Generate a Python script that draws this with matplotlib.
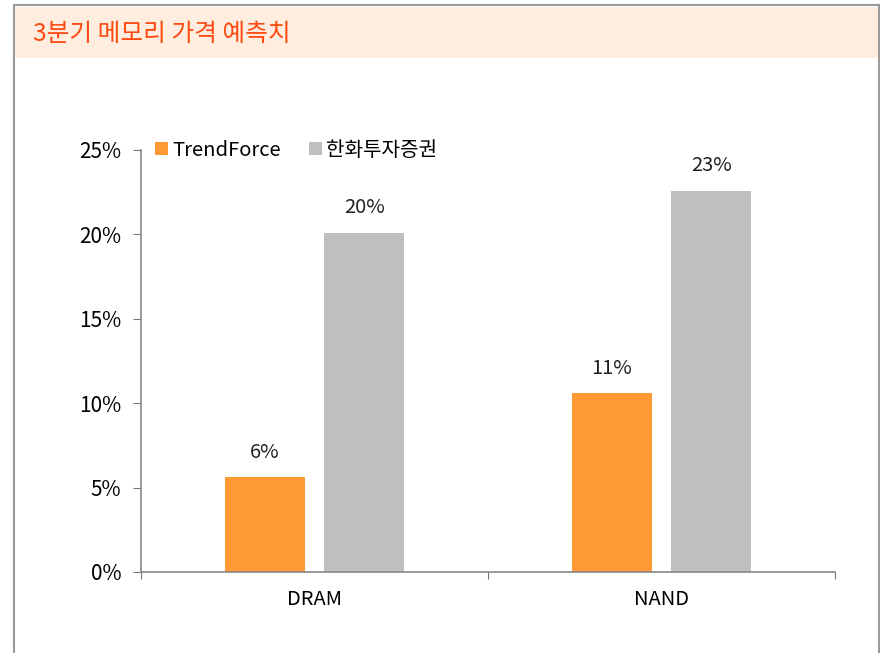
import matplotlib
matplotlib.use("Agg")
import matplotlib.pyplot as plt
from matplotlib.patches import Rectangle
import numpy as np

plt.rcParams['font.family'] = ['Noto Sans CJK KR', 'DejaVu Sans']

categories = ["DRAM", "NAND"]
series_names = ["TrendForce", "한화투자증권"]
trendforce = [5.6, 10.6]
hanwha = [20.1, 22.6]
labels_tf = ["6%", "11%"]
labels_hw = ["20%", "23%"]
yticks = [0, 5, 10, 15, 20, 25]
title = "3분기 메모리 가격 예측치"

W, H = 880, 653
fs = 14.5
fig = plt.figure(figsize=(W/100, H/100), dpi=100)

# frame and header band
fig.patches.append(Rectangle((14/W, -0.01), (879-14)/W, (H-5)/H + 0.01, transform=fig.transFigure,
                             facecolor='white', edgecolor='#9a9a9a', linewidth=1.5, zorder=-2))
fig.patches.append(Rectangle((15/W, 1-58/H), (878-15)/W, (58-7)/H, transform=fig.transFigure,
                             facecolor='#FFEDE0', edgecolor='none', zorder=-1))
fig.text(33/W, 1-34/H, title, color='#FF4A12', fontsize=17.8, va='center', ha='left')

ax = fig.add_axes([141/W, 1-572/H, (835-141)/W, (572-150)/H])
ax.patch.set_alpha(0)
x = np.arange(len(categories))
w = 0.23
off = 0.143
ax.bar(x - off, trendforce, w, color='#FF9933', label=series_names[0])
ax.bar(x + off, hanwha, w, color='#BFBFBF', label=series_names[1])
for xi, v, t in zip(x - off, trendforce, labels_tf):
    ax.text(xi, v + 0.85, t, ha='center', va='bottom', fontsize=fs, color='#222222')
for xi, v, t in zip(x + off, hanwha, labels_hw):
    ax.text(xi, v + 0.85, t, ha='center', va='bottom', fontsize=fs, color='#222222')

ax.set_xlim(-0.5, 1.5)
ax.set_ylim(0, 25)
ax.set_yticks(yticks)
ax.set_yticklabels([f"{t}%" for t in yticks], fontsize=15)
ax.set_xticks([-0.5, 0.5, 1.5], minor=False)
ax.set_xticklabels(["", "", ""])
ax.set_xticks(x, minor=True)
ax.set_xticklabels(categories, minor=True, fontsize=fs)
ax.tick_params(axis='x', which='minor', length=0, pad=12)
ax.tick_params(axis='x', which='major', length=5, color='#777777', direction='out')
ax.tick_params(axis='y', length=6, color='#777777', pad=8)
for s in ['top', 'right']:
    ax.spines[s].set_visible(False)
for s in ['left', 'bottom']:
    ax.spines[s].set_color('#888888')
    ax.spines[s].set_linewidth(1.2)

ax.legend(loc='center left', bbox_to_anchor=(0.0, 1.0), ncol=2, frameon=False,
          fontsize=fs, handlelength=0.65, handleheight=0.65, handletextpad=0.2,
          columnspacing=1.4, borderaxespad=0.3)

fig.savefig("out.png", dpi=100)
